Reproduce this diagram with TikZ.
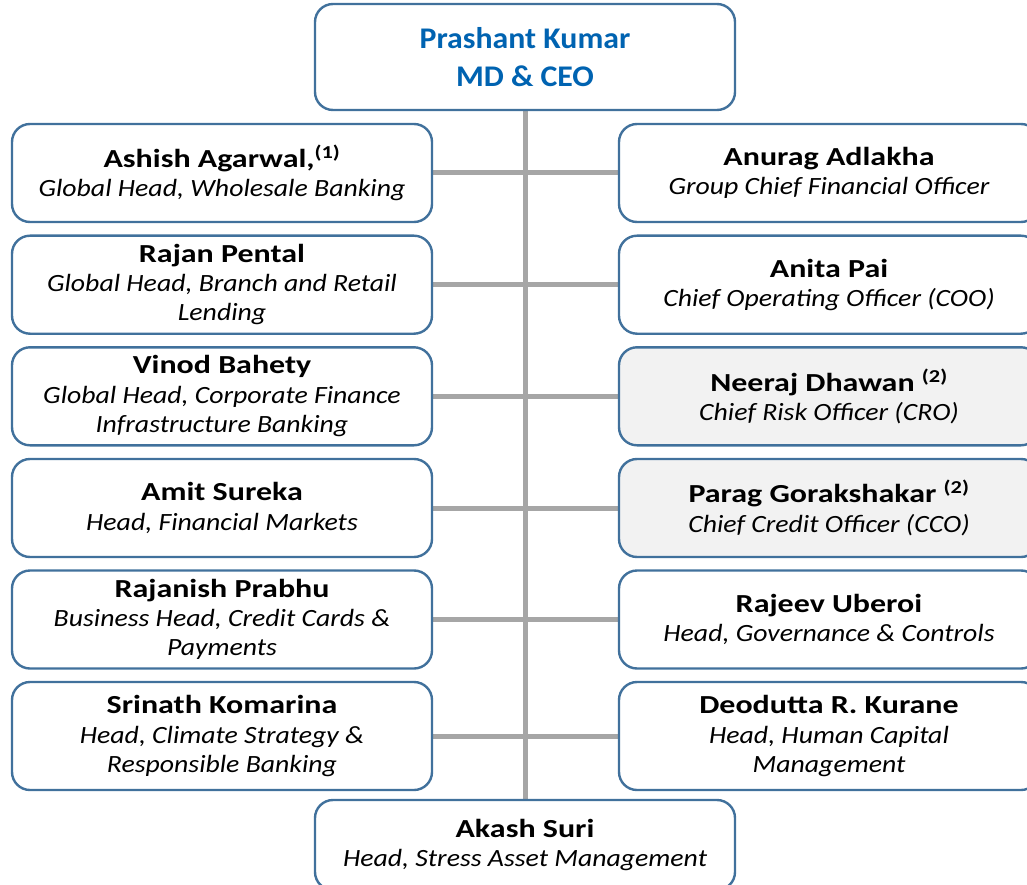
\documentclass[tikz,border=0pt]{standalone}
\usepackage{fontspec}
\setmainfont{Carlito}
\newfontfamily\namefont[FakeStretch=1.23]{Carlito}
\newfontfamily\titlefont[FakeStretch=1.12]{Carlito}
\newfontfamily\ceofont[FakeStretch=1.06]{Carlito}
\newcommand\pname[1]{{\namefont\bfseries\fontsize{26}{29.3}\selectfont #1}}
\newcommand\ptitle[1]{{\titlefont\itshape\fontsize{24.8}{29.3}\selectfont #1}}
\usetikzlibrary{backgrounds}
\definecolor{bordercol}{RGB}{65,113,156}
\definecolor{linecol}{RGB}{166,166,166}
\definecolor{ceoblue}{RGB}{0,99,177}
\definecolor{grayfill}{RGB}{242,242,242}
\begin{document}
\begin{tikzpicture}[x=1pt,y=-1pt,
  box/.style={draw=bordercol, line width=2.4pt, rounded corners=18pt, fill=white,
    minimum width=420pt, minimum height=98pt, align=center, inner sep=0pt,
    font=\fontsize{24.8}{29.3}\selectfont},
  shaded/.style={fill=grayfill},
  conn/.style={draw=linecol, line width=5pt}]
\clip (0,0) rectangle (1027,885);
% top
\node[box, minimum height=106pt, text=ceoblue, font=\ceofont\fontsize{30}{38}\selectfont\bfseries] (ceo) at (525,57) {Prashant Kumar\\MD \& CEO};
% left column
\node[box] (l1) at (222,173) {\pname{Ashish Agarwal,\textsuperscript{(1)}}\\\ptitle{Global Head, Wholesale Banking}};
\node[box] (l2) at (222,284.7) {\pname{Rajan Pental}\\\ptitle{Global Head, Branch and Retail}\\\ptitle{Lending}};
\node[box] (l3) at (222,396.3) {\pname{Vinod Bahety}\\\ptitle{Global Head, Corporate Finance}\\\ptitle{Infrastructure Banking}};
\node[box] (l4) at (222,508) {\pname{Amit Sureka}\\\ptitle{Head, Financial Markets}};
\node[box] (l5) at (222,619.5) {\pname{Rajanish Prabhu}\\\ptitle{Business Head, Credit Cards \&}\\\ptitle{Payments}};
\node[box, minimum height=108pt] (l6) at (222,736) {\pname{Srinath Komarina}\\\ptitle{Head, Climate Strategy \&}\\\ptitle{Responsible Banking}};
% right column
\node[box] (r1) at (829,173) {\pname{Anurag Adlakha}\\\ptitle{Group Chief Financial Officer}};
\node[box] (r2) at (829,284.7) {\pname{Anita Pai}\\\ptitle{Chief Operating Officer (COO)}};
\node[box, shaded] (r3) at (829,396.3) {\pname{Neeraj Dhawan \textsuperscript{(2)}}\\\ptitle{Chief Risk Officer (CRO)}};
\node[box, shaded] (r4) at (829,508) {\pname{Parag Gorakshakar \textsuperscript{(2)}}\\\ptitle{Chief Credit Officer (CCO)}};
\node[box] (r5) at (829,619.5) {\pname{Rajeev Uberoi}\\\ptitle{Head, Governance \& Controls}};
\node[box, minimum height=108pt] (r6) at (829,736) {\pname{Deodutta R. Kurane}\\\ptitle{Head, Human Capital}\\\ptitle{Management}};
% bottom
\node[box, minimum height=90pt] (suri) at (525,845) {\pname{Akash Suri}\\\ptitle{Head, Stress Asset Management}};
% connectors
\begin{scope}[on background layer]
\draw[conn] (ceo.south) -- (suri.north);
\foreach \i in {1,...,6} \draw[conn] (l\i.east) -- (r\i.west);
\end{scope}
\end{tikzpicture}
\end{document}
